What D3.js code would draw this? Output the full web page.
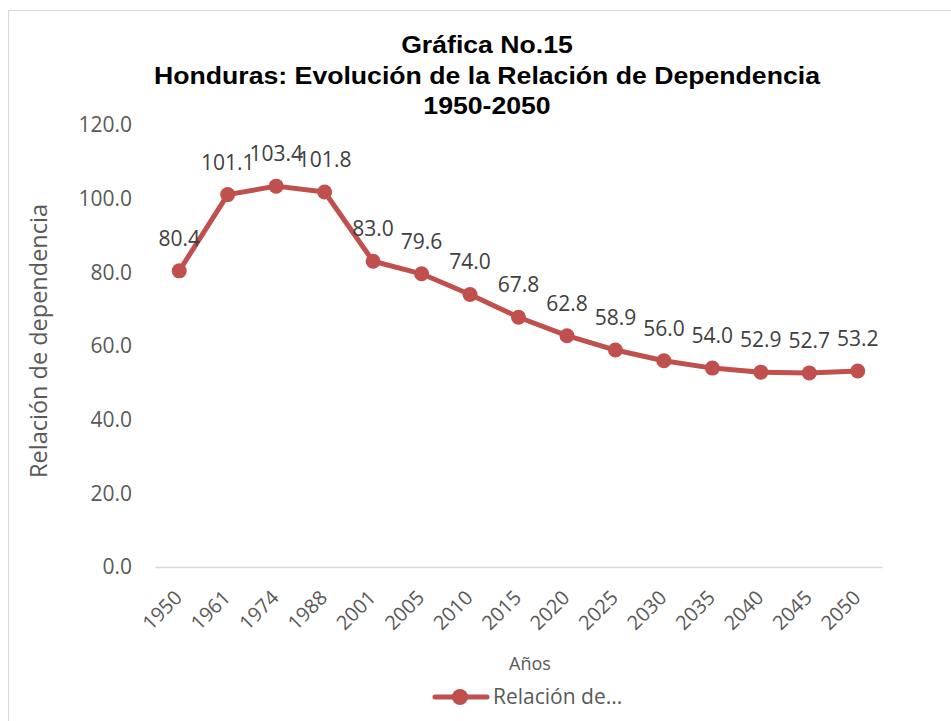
<!DOCTYPE html>
<html>
<head>
<meta charset="utf-8">
<script src="https://cdn.jsdelivr.net/npm/d3@7"></script>
<style>
  html, body { margin: 0; padding: 0; background: #fff; }
  svg { display: block; }
</style>
</head>
<body>
<svg id="chart" width="951" height="721"></svg>
<script>
// Honduras dependency ratio, 1950-2050
const years = ["1950", "1961", "1974", "1988", "2001", "2005", "2010", "2015",
               "2020", "2025", "2030", "2035", "2040", "2045", "2050"];
const ratio = [80.4, 101.1, 103.4, 101.8, 83.0, 79.6, 74.0, 67.8,
               62.8, 58.9, 56.0, 54.0, 52.9, 52.7, 53.2];
const yTicks = [0, 20, 40, 60, 80, 100, 120];
const titleLines = ["Gráfica No.15",
                    "Honduras: Evolución de la Relación de Dependencia",
                    "1950-2050"];
const seriesName = "Relación de...";

const svg = d3.select("#chart");
const W = 951, H = 721;
const lineColor = "#C0504D";
const bodyFont = "'Open Sans', 'Noto Sans', sans-serif";

// chart frame
svg.append("rect")
  .attr("x", 8.5).attr("y", 10.5)
  .attr("width", W + 20).attr("height", H + 20)
  .attr("fill", "#fff").attr("stroke", "#d9d9d9").attr("stroke-width", 1);

const plot = { left: 155, right: 882, top: 125, bottom: 567 };

const x = d3.scaleBand().domain(years).range([plot.left, plot.right]);
const y = d3.scaleLinear().domain([0, 120]).range([plot.bottom, plot.top]);
const cx = d => x(d) + x.bandwidth() / 2;

// title, slightly widened bold sans
const titleCx = 487;
const title = svg.append("g")
  .attr("transform", `translate(${titleCx},0) scale(1.11,1)`)
  .append("text")
  .attr("text-anchor", "middle")
  .attr("font-family", "'Liberation Sans', Arial, sans-serif")
  .attr("font-weight", "bold")
  .attr("font-size", 24)
  .attr("fill", "#000");
const titleY = [53, 84, 114];
titleLines.forEach((t, i) => {
  title.append("tspan").attr("x", 0).attr("y", titleY[i]).text(t);
});

// y axis labels
const yAxis = d3.axisLeft(y).tickValues(yTicks).tickFormat(d3.format(".1f")).tickSize(0).tickPadding(23);
const gy = svg.append("g").attr("transform", `translate(${plot.left},0)`).call(yAxis);
gy.select(".domain").remove();
gy.selectAll("text")
  .attr("font-family", bodyFont).attr("font-size", 21).attr("fill", "#595959");

// x axis baseline and rotated labels
const xAxis = d3.axisBottom(x).tickSize(0).tickPadding(0);
const gx = svg.append("g").attr("transform", `translate(0,${plot.bottom})`).call(xAxis);
gx.select(".domain").attr("stroke", "#d9d9d9").attr("stroke-width", 1.5);
gx.selectAll(".tick text")
  .attr("font-family", bodyFont).attr("font-size", 20).attr("fill", "#595959")
  .attr("text-anchor", "end")
  .attr("y", 0)
  .attr("dy", null)
  .attr("transform", "translate(4,32) rotate(-45)");

// axis titles
svg.append("text")
  .attr("transform", "translate(47,341) rotate(-90)")
  .attr("text-anchor", "middle")
  .attr("font-family", bodyFont).attr("font-size", 23.5).attr("fill", "#595959")
  .text("Relación de dependencia");

svg.append("text")
  .attr("x", 530).attr("y", 670)
  .attr("text-anchor", "middle")
  .attr("font-family", bodyFont).attr("font-size", 18).attr("fill", "#595959")
  .text("Años");

// series line with markers
const data = years.map((yr, i) => ({ yr, v: ratio[i] }));
svg.append("path")
  .datum(data)
  .attr("fill", "none")
  .attr("stroke", lineColor)
  .attr("stroke-width", 5)
  .attr("stroke-linejoin", "round")
  .attr("stroke-linecap", "round")
  .attr("d", d3.line().x(d => cx(d.yr)).y(d => y(d.v)));

svg.append("g").selectAll("circle")
  .data(data).join("circle")
  .attr("cx", d => cx(d.yr)).attr("cy", d => y(d.v))
  .attr("r", 7.5).attr("fill", lineColor);

// value labels
svg.append("g").selectAll("text")
  .data(data).join("text")
  .attr("x", d => cx(d.yr))
  .attr("y", d => y(d.v) - 25)
  .attr("text-anchor", "middle")
  .attr("font-family", bodyFont).attr("font-size", 21).attr("fill", "#404040")
  .text(d => d.v.toFixed(1));

// legend
const lg = svg.append("g");
lg.append("line")
  .attr("x1", 435).attr("x2", 487).attr("y1", 697).attr("y2", 697)
  .attr("stroke", lineColor).attr("stroke-width", 5).attr("stroke-linecap", "round");
lg.append("circle").attr("cx", 460).attr("cy", 697).attr("r", 8).attr("fill", lineColor);
lg.append("text")
  .attr("x", 493).attr("y", 704)
  .attr("font-family", bodyFont).attr("font-size", 21).attr("fill", "#595959")
  .text(seriesName);
</script>
</body>
</html>
